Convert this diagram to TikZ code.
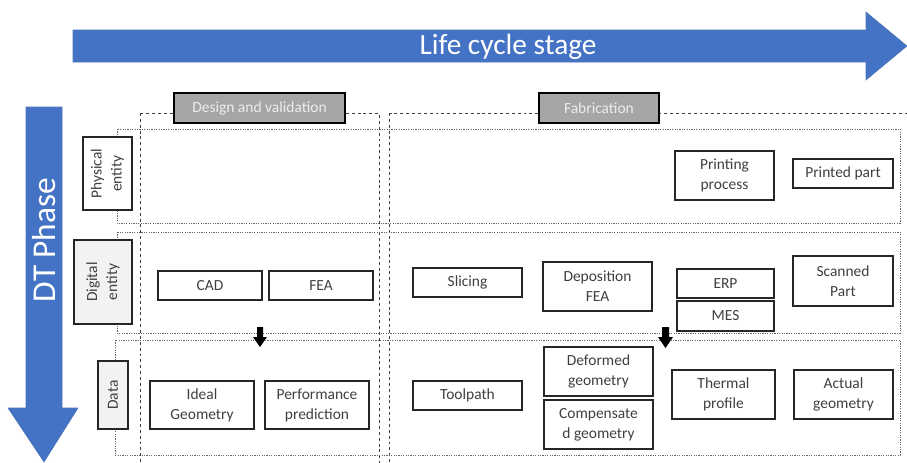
\documentclass[tikz,border=0pt]{standalone}
\usepackage{fontspec}
\setmainfont{Carlito}
\definecolor{officeblue}{HTML}{4472C4}
\definecolor{boxline}{HTML}{262626}
\definecolor{boxtext}{HTML}{404040}
\definecolor{headfill}{HTML}{A6A6A6}
\definecolor{headtext}{HTML}{ECECEC}
\definecolor{labelfill}{HTML}{F2F2F2}
\newcommand\lblfont{\fontsize{11.6}{15}\selectfont}
\begin{document}
\begin{tikzpicture}[x=0.75pt,y=-0.75pt,
  corners/.style n args={4}{minimum width={(#3-#1)*0.75pt},
    minimum height={(#4-#2)*0.75pt}, at={(0.5*#1+0.5*#3,0.5*#2+0.5*#4)}},
  box/.style={draw=boxline, line width=1.1pt, fill=white, text=boxtext,
    font=\lblfont, align=center, inner sep=0pt, outer sep=0pt},
  thickbox/.style={box, line width=1.5pt},
  labelbox/.style={draw=boxline, line width=1.3pt, fill=labelfill, inner sep=0pt},
  labeltext/.style={rotate=90, text=boxtext, font=\lblfont, align=center, inner sep=0pt},
  header/.style={draw=black, line width=1.5pt, fill=headfill, text=headtext,
    font=\lblfont, inner sep=0pt},
  colframe/.style={draw=boxtext, line width=0.6pt, dash pattern=on 2.2pt off 2.2pt},
  rowframe/.style={draw=boxtext!80, line width=0.6pt, dash pattern=on 0.9pt off 0.9pt},
  bigarrow/.style={fill=officeblue, draw=officeblue!80!gray, line width=0.4pt},
  smallarrow/.style={fill=black},
  bigtext/.style={text=white, inner sep=0pt}]
\useasboundingbox (0,0) rectangle (907,462);
\clip (0,0) rectangle (907,462);

% life cycle columns
\draw[colframe] (140,113) rectangle (379,480);
\draw[colframe] (389,113) rectangle (915,480);

% DT phase rows
\draw[rowframe] (117,129) rectangle (900,223);
\draw[rowframe] (117,232) rectangle (900,333);
\draw[rowframe] (115,340) rectangle (900,455);

% row labels
\node[labelbox, fill=white, corners={83}{137}{132}{210}] (phys) {};
\node[labeltext] at (phys.center) {Physical\\entity};
\node[labelbox, corners={74}{240}{132}{324}] (digi) {};
\node[labeltext] at (digi.center) {Digital\\entity};
\node[labelbox, corners={98}{361}{128}{429}] (data) {};
\node[labeltext] at (data.center) {Data};

% column headers
\node[header, corners={174}{93}{345}{123}] (design) {Design and validation};
\node[header, corners={539}{93}{659}{123}] (fab) {Fabrication};

% design and validation
\node[box, corners={158}{271}{262}{300}] (cad) {CAD};
\node[box, corners={269}{271}{373}{300}] (fea) {FEA};
\node[thickbox, corners={150}{381}{254}{429}] (ideal) {Ideal\\Geometry};
\node[thickbox, corners={265}{381}{369}{429}] (perf) {Performance\\prediction};

% fabrication
\node[box, corners={675}{151}{774}{200}] (printing) {Printing\\process};
\node[thickbox, corners={793}{159}{893}{188}] (printed) {Printed part};
\node[box, corners={413}{268}{522}{297}] (slicing) {Slicing};
\node[box, corners={543}{262}{652}{311}] (depfea) {Deposition\\FEA};
\node[thickbox, corners={677}{269}{774}{298}] (erp) {ERP};
\node[box, corners={677}{301}{774}{331}] (mes) {MES};
\node[thickbox, corners={793}{256}{893}{306}] (scanned) {Scanned\\Part};
\node[box, corners={413}{381}{522}{410}] (toolpath) {Toolpath};
\node[thickbox, corners={544}{347}{653}{396}] (deformed) {Deformed\\geometry};
\node[thickbox, corners={544}{400}{653}{449}] (compensated) {Compensate\\d geometry};
\node[thickbox, corners={672}{370}{775}{419}] (thermal) {Thermal\\profile};
\node[thickbox, corners={794}{370}{893}{419}] (actual) {Actual\\geometry};

% block arrows from digital entity to data
\fill[smallarrow] (257,327) -- (263,327) -- (263,337) -- (267,337) -- (260,347)
  -- (253,337) -- (257,337) -- cycle;
\fill[smallarrow] (662,327) -- (669,327) -- (669,337) -- (673,337) -- (665.5,348)
  -- (658,337) -- (662,337) -- cycle;

% life cycle stage arrow
\path[bigarrow] (73,30) -- (866,30) -- (866,12) -- (907,46) -- (866,80)
  -- (866,62) -- (73,62) -- cycle;
\node[bigtext, font=\fontsize{22}{25}\selectfont] (lcs) at (508,47) {Life cycle stage};

% DT phase arrow
\path[bigarrow] (26,107) -- (62,107) -- (62,408) -- (78,408) -- (44,462)
  -- (8,408) -- (26,408) -- cycle;
\node[bigtext, rotate=90, font=\fontsize{25}{29}\selectfont] (dtp) at (44,240) {DT Phase};
\end{tikzpicture}
\end{document}
